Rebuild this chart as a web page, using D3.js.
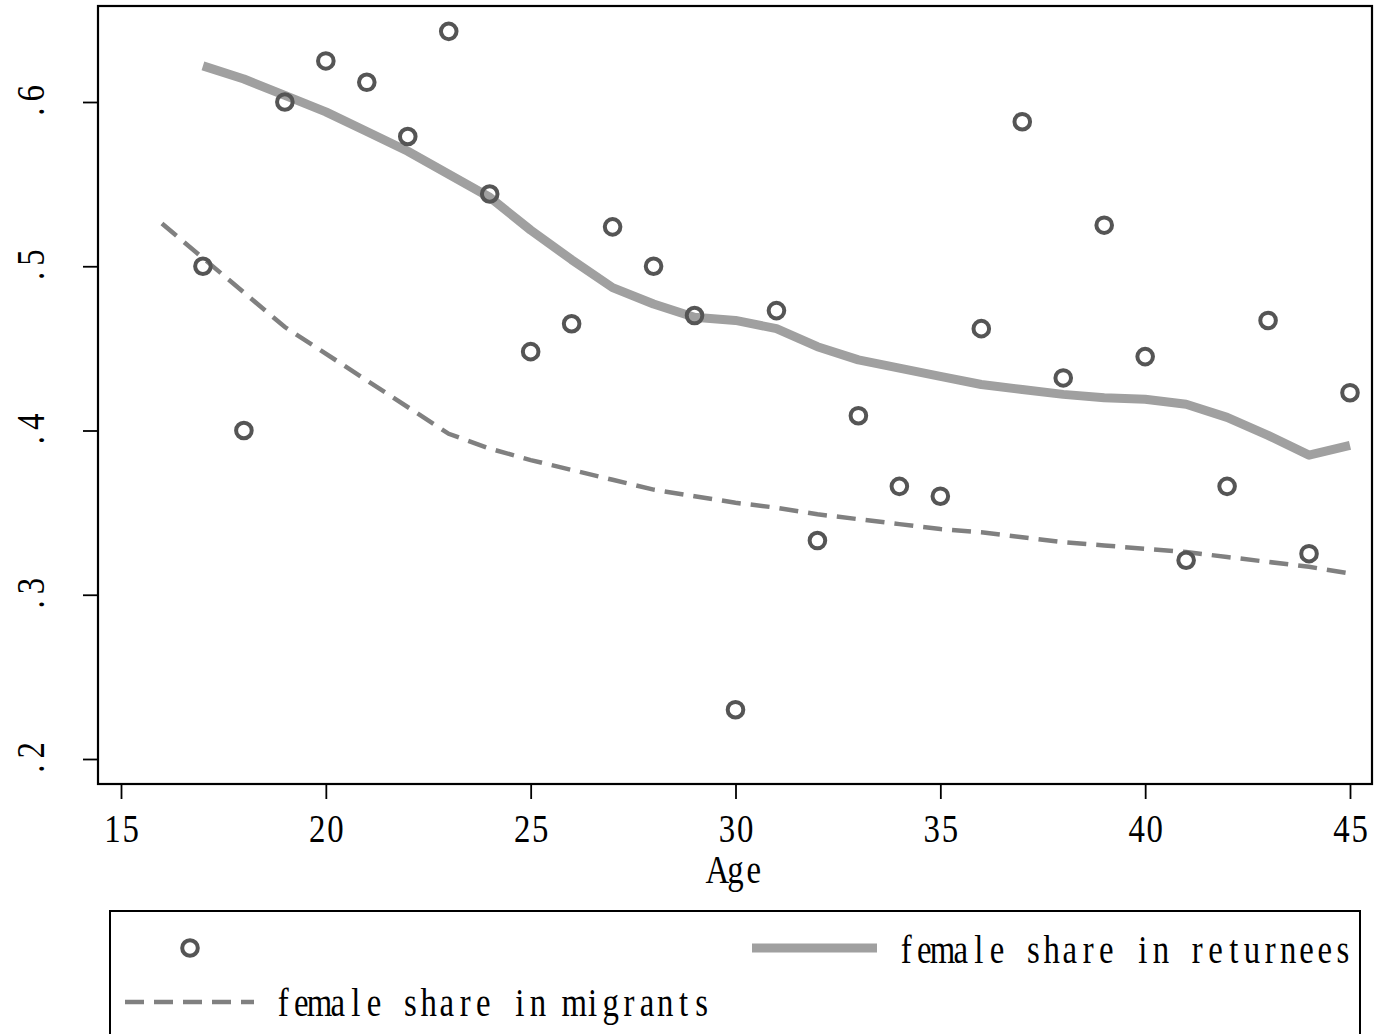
<!DOCTYPE html>
<html>
<head>
<meta charset="utf-8">
<script src="https://cdn.jsdelivr.net/npm/d3@7"></script>
<style>
  html, body { margin: 0; padding: 0; background: #fff; }
  svg { display: block; }
</style>
</head>
<body>
<svg id="chart" width="1374" height="1034"></svg>
<script>
// Observed female share of returnees by age
const ages = [17,18,19,20,21,22,23,24,25,26,27,28,29,30,31,32,33,34,35,36,37,38,39,40,41,42,43,44,45];
const returneeShare = [0.500,0.400,0.600,0.625,0.612,0.579,0.643,0.544,0.448,0.465,0.524,0.500,0.470,0.230,0.473,
  0.333,0.409,0.366,0.360,0.462,0.588,0.432,0.525,0.445,0.321,0.366,0.467,0.325,0.423];

// Smoothed female share in returnees
const smoothAges = [17,18,19,20,21,22,23,24,25,26,27,28,29,30,31,32,33,34,35,36,37,38,39,40,41,42,43,44,45];
const smoothReturnees = [0.622,0.614,0.604,0.594,0.582,0.570,0.556,0.542,0.522,0.504,0.487,0.477,0.469,0.467,0.462,
  0.451,0.443,0.438,0.433,0.428,0.425,0.422,0.420,0.419,0.416,0.408,0.397,0.385,0.391];

// Smoothed female share in migrants
const migrantAges = [16,19,23,24,25,26,27,28,29,30,31,32,33,34,35,36,37,38,39,40,41,42,43,44,45];
const smoothMigrants = [0.526,0.463,0.398,0.389,0.382,0.376,0.370,0.364,0.360,0.356,0.353,0.349,0.346,0.343,0.340,
  0.338,0.335,0.332,0.330,0.328,0.326,0.323,0.320,0.317,0.313];

const xTicks = [15,20,25,30,35,40,45];
const yTicks = [0.2,0.3,0.4,0.5,0.6];
const xTitle = "Age";
const legendLabels = ["female share in returnees", "female share in migrants"];

const FONT = "'Liberation Serif', 'DejaVu Serif', serif";
const FS = 41;       // glyph size
const SX = 0.8;      // horizontal condensing of glyphs
const CHAR_W = 18.2; // fixed advance per character

const svg = d3.select("#chart");

const plot = { left: 98, right: 1372, top: 6, bottom: 784 };
const x = d3.scaleLinear().domain([15, 45]).range([121, 1350]);
const y = d3.scaleLinear().domain([0.2, 0.6]).range([759, 102]);

// Fixed-pitch, condensed serif text: each glyph is centred in its own cell
function monoText(parent, str, px, py, anchor, rotate) {
  const n = str.length;
  const start = anchor === "middle" ? -n * CHAR_W / 2 : 0;
  const xs = d3.range(n).map(i => ((start + (i + 0.5) * CHAR_W) / SX).toFixed(2));
  return parent.append("text")
    .attr("transform", `translate(${px},${py})${rotate ? " rotate(-90)" : ""} scale(${SX},1)`)
    .attr("x", xs.join(" "))
    .attr("y", 0)
    .attr("text-anchor", "middle")
    .attr("font-family", FONT).attr("font-size", FS).attr("fill", "#000")
    .text(str);
}

// Plot frame
svg.append("rect")
  .attr("x", plot.left).attr("y", plot.top)
  .attr("width", plot.right - plot.left).attr("height", plot.bottom - plot.top)
  .attr("fill", "none").attr("stroke", "#000").attr("stroke-width", 2.2);

// X axis
const xAxis = svg.append("g")
  .attr("transform", `translate(0,${plot.bottom})`)
  .call(d3.axisBottom(x).tickValues(xTicks).tickSize(15).tickFormat(""));
xAxis.select(".domain").remove();
xAxis.selectAll(".tick line").attr("stroke", "#000").attr("stroke-width", 1.8);
xAxis.selectAll(".tick").each(function(d) {
  monoText(d3.select(this), d3.format("d")(d), 0, 58, "middle", false);
});

// X axis title
monoText(svg, xTitle, x(30), 883, "middle", false);

// Y axis
const fmtY = v => d3.format(".1f")(v).replace(/^0/, "");
const yAxis = svg.append("g")
  .attr("transform", `translate(${plot.left},0)`)
  .call(d3.axisLeft(y).tickValues(yTicks).tickSize(15).tickFormat(""));
yAxis.select(".domain").remove();
yAxis.selectAll(".tick line").attr("stroke", "#000").attr("stroke-width", 1.8);
yAxis.selectAll(".tick").each(function(d) {
  monoText(d3.select(this), fmtY(d), -54, 0, "middle", true);
});

// Lines
const returneeLine = d3.line().x((d, i) => x(smoothAges[i])).y(d => y(d));
svg.append("path")
  .datum(smoothReturnees)
  .attr("d", returneeLine)
  .attr("fill", "none").attr("stroke", "#a0a0a0").attr("stroke-width", 9)
  .attr("stroke-linejoin", "round");

const migrantLine = d3.line().x((d, i) => x(migrantAges[i])).y(d => y(d));
svg.append("path")
  .datum(smoothMigrants)
  .attr("d", migrantLine)
  .attr("fill", "none").attr("stroke", "#808080").attr("stroke-width", 4.5)
  .attr("stroke-dasharray", "19,10");

// Scatter points
svg.append("g").selectAll("circle")
  .data(returneeShare)
  .join("circle")
  .attr("cx", (d, i) => x(ages[i]))
  .attr("cy", d => y(d))
  .attr("r", 7.8)
  .attr("fill", "none").attr("stroke", "#555").attr("stroke-width", 4);

// Legend
const legend = svg.append("g");
legend.append("rect")
  .attr("x", 110).attr("y", 911).attr("width", 1250).attr("height", 140)
  .attr("fill", "#fff").attr("stroke", "#000").attr("stroke-width", 2);
legend.append("circle")
  .attr("cx", 190).attr("cy", 948).attr("r", 7.8)
  .attr("fill", "none").attr("stroke", "#555").attr("stroke-width", 4);
legend.append("line")
  .attr("x1", 752).attr("x2", 877).attr("y1", 948).attr("y2", 948)
  .attr("stroke", "#a0a0a0").attr("stroke-width", 9);
monoText(legend, legendLabels[0], 897, 963, "start", false);
legend.append("line")
  .attr("x1", 125).attr("x2", 254).attr("y1", 1002).attr("y2", 1002)
  .attr("stroke", "#808080").attr("stroke-width", 4.5).attr("stroke-dasharray", "19,10");
monoText(legend, legendLabels[1], 274, 1016, "start", false);
</script>
</body>
</html>
